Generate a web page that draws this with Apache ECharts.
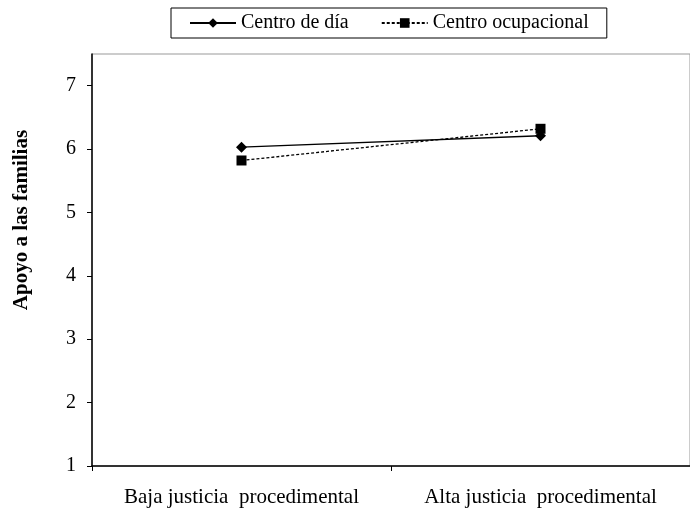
<!DOCTYPE html>
<html>
<head>
<meta charset="utf-8">
<script src="https://cdn.jsdelivr.net/npm/echarts@6/dist/echarts.min.js"></script>
<style>
  html, body { margin: 0; padding: 0; background: #fff; }
  #chart { width: 690px; height: 513px; }
</style>
</head>
<body>
<div id="chart"></div>
<script>
// categories and values
const categories = ['Baja justicia  procedimental', 'Alta justicia  procedimental'];
const centroDia = [6.03, 6.21];
const centroOcupacional = [5.82, 6.32];
const yTicks = [1, 2, 3, 4, 5, 6, 7];

const font = 'Liberation Serif';
const myChart = echarts.init(document.getElementById('chart'));

myChart.setOption({
    animation: false,
    textStyle: { fontFamily: font, color: '#000' },
    legend: {
        left: 171,
        top: 8,
        padding: [5, 18],
        itemGap: 32,
        itemWidth: 46,
        itemHeight: 12,
        borderColor: '#000',
        borderWidth: 1,
        textStyle: { fontFamily: font, fontSize: 20, color: '#000' },
        data: ['Centro de día', 'Centro ocupacional']
    },
    grid: {
        left: 92,
        right: -7,
        top: 54,
        bottom: 47,
        show: true,
        borderColor: '#999',
        borderWidth: 1
    },
    xAxis: {
        type: 'category',
        data: categories,
        boundaryGap: true,
        axisLine: { lineStyle: { color: '#000', width: 1.5 } },
        axisTick: { show: true, length: 5, lineStyle: { color: '#000' } },
        axisLabel: { fontFamily: font, fontSize: 21, color: '#000', margin: 21, interval: 0, hideOverlap: false }
    },
    yAxis: {
        type: 'value',
        min: 1,
        max: 7.5,
        interval: 1,
        name: 'Apoyo a las familias',
        nameLocation: 'middle',
        nameRotate: 90,
        nameGap: 60,
        nameTextStyle: { fontFamily: font, fontSize: 21, fontWeight: 'bold', color: '#000', padding: [0, 0, 0, 80] },
        splitLine: { show: false },
        axisLine: { show: true, lineStyle: { color: '#000', width: 1.5 } },
        axisTick: { show: true, length: 5, customValues: yTicks, lineStyle: { color: '#000' } },
        axisLabel: { fontFamily: font, fontSize: 20, color: '#000', margin: 16, customValues: yTicks }
    },
    series: [
        {
            name: 'Centro de día',
            type: 'line',
            data: centroDia,
            symbol: 'diamond',
            symbolSize: 11,
            itemStyle: { color: '#000' },
            lineStyle: { color: '#000', width: 1.3, type: 'solid' }
        },
        {
            name: 'Centro ocupacional',
            type: 'line',
            data: centroOcupacional,
            symbol: 'rect',
            symbolSize: 10,
            itemStyle: { color: '#000' },
            lineStyle: { color: '#000', width: 1.3, type: [3, 2] }
        }
    ]
});
</script>
</body>
</html>
